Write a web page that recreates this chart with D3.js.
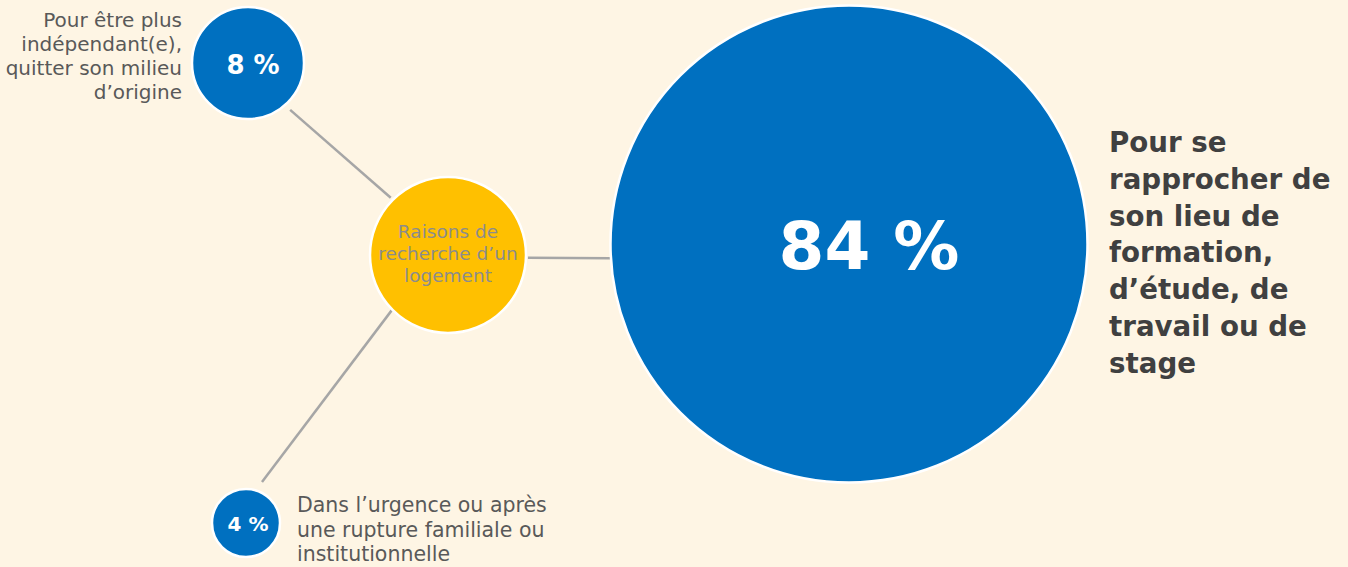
<!DOCTYPE html>
<html>
<head>
<meta charset="utf-8">
<script src="https://cdn.jsdelivr.net/npm/d3@7"></script>
<style>
  html, body { margin: 0; padding: 0; background: #FEF5E4; }
  svg { display: block; }
</style>
</head>
<body>
<div id="chart"></div>
<script>
// data
let hubLabel = ["Raisons de", "recherche d\u2019un", "logement"];
let reasons = ["independance", "rapprochement", "urgence"];
let shares = [8, 84, 4];
let labels = [
    ["Pour être plus", "indépendant(e),", "quitter son milieu", "d\u2019origine"],
    ["Pour se", "rapprocher de", "son lieu de", "formation,", "d\u2019étude, de", "travail ou de", "stage"],
    ["Dans l\u2019urgence ou après", "une rupture familiale ou", "institutionnelle"]
];

let width = 1348;
let height = 567;
let blue = "#0070C0";
let yellow = "#FFC000";
let font = "'DejaVu Sans', sans-serif";

// layout
let hub = { x: 448, y: 255, r: 78 };
let centers = { independance: [248, 63], rapprochement: [849, 244], urgence: [246, 523] };
// connector: [angle on hub (deg), gap at hub, angle on bubble (deg), gap at bubble]
let anchors = { independance: [-135, 3, 48, 7], rapprochement: [2, 2, 176.6, 1], urgence: [135.5, 1, -68.7, 10] };
let pctSize = { independance: 26, rapprochement: 66, urgence: 20 };
let pctDy = { independance: 11, rapprochement: 25, urgence: 8 };
let pctDx = { independance: 5, rapprochement: 20, urgence: 2 };

let rScale = d3.scaleLinear().domain([4, 8, 84]).range([34, 56, 238.5]);

let nodes = reasons.map((k, i) => ({
    key: k, value: shares[i], label: labels[i],
    x: centers[k][0], y: centers[k][1], r: rScale(shares[i])
}));

let svg = d3.select("#chart").append("svg")
    .attr("width", width).attr("height", height);

svg.append("rect").attr("width", width).attr("height", height).attr("fill", "#FEF5E4");

// connecting lines
let rad = Math.PI / 180;
function seg(d) {
    let [a1, g1, a2, g2] = anchors[d.key];
    return [hub.x + Math.cos(a1 * rad) * (hub.r + g1), hub.y + Math.sin(a1 * rad) * (hub.r + g1),
        d.x + Math.cos(a2 * rad) * (d.r + g2), d.y + Math.sin(a2 * rad) * (d.r + g2)];
}
svg.append("g").selectAll("line").data(nodes).join("line")
    .attr("x1", d => seg(d)[0]).attr("y1", d => seg(d)[1])
    .attr("x2", d => seg(d)[2]).attr("y2", d => seg(d)[3])
    .attr("stroke", "#A6A6A6").attr("stroke-width", 2.5);

// hub
svg.append("circle").attr("cx", hub.x).attr("cy", hub.y).attr("r", hub.r)
    .attr("fill", yellow).attr("stroke", "#fff").attr("stroke-width", 2.5);
svg.append("text").attr("x", hub.x).attr("y", 238)
    .attr("text-anchor", "middle").attr("fill", "#8C8C8C")
    .style("font-family", font).style("font-size", "18.5px")
    .selectAll("tspan").data(hubLabel).join("tspan")
    .attr("x", hub.x).attr("dy", (d, i) => i ? 22 : 0).text(d => d);

// bubbles
let g = svg.append("g").selectAll("g").data(nodes).join("g");
g.append("circle")
    .attr("cx", d => d.x).attr("cy", d => d.y).attr("r", d => d.r)
    .attr("fill", blue).attr("stroke", "#fff").attr("stroke-width", 2.5);
g.append("text")
    .attr("x", d => d.x + pctDx[d.key]).attr("y", d => d.y + pctDy[d.key])
    .attr("text-anchor", "middle").attr("fill", "#fff")
    .style("font-family", font).style("font-weight", "bold")
    .style("font-size", d => pctSize[d.key] + "px")
    .text(d => d.value + " %");

// labels
let lab = {
    independance: { x: 182, y: 27, dy: 24, anchor: "end", size: 20, weight: "normal", color: "#595959" },
    rapprochement: { x: 1109, y: 152, dy: 36.8, anchor: "start", size: 27.7, weight: "bold", color: "#404040" },
    urgence: { x: 297, y: 512, dy: 24.5, anchor: "start", size: 20.5, weight: "normal", color: "#595959" }
};
nodes.forEach(d => {
    let o = lab[d.key];
    svg.append("text").attr("x", o.x).attr("y", o.y)
        .attr("text-anchor", o.anchor).attr("fill", o.color)
        .style("font-family", font).style("font-size", o.size + "px").style("font-weight", o.weight)
        .selectAll("tspan").data(d.label).join("tspan")
        .attr("x", o.x).attr("dy", (t, i) => i ? o.dy : 0).text(t => t);
});
</script>
</body>
</html>
